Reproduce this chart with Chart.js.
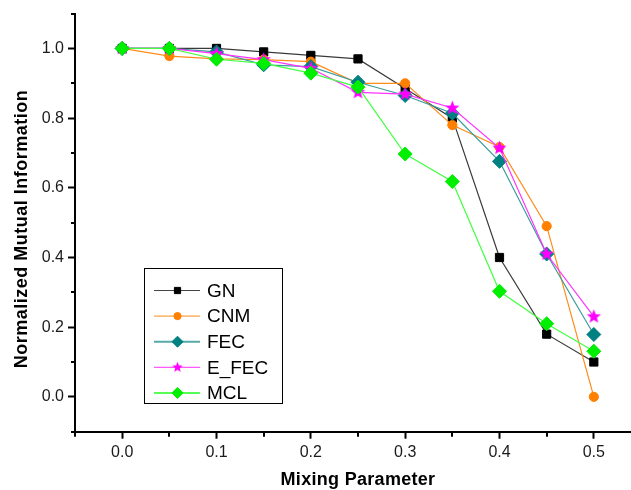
<!DOCTYPE html>
<html>
<head>
<meta charset="utf-8">
<script src="https://cdn.jsdelivr.net/npm/chart.js@4"></script>
<style>
html,body{margin:0;padding:0;background:#fff;overflow:hidden;}
canvas{display:block;}
</style>
</head>
<body>
<canvas id="c" width="649" height="490" style="width:649px;height:490px"></canvas>
<script>
const mixing = [0, 0.05, 0.1, 0.15, 0.2, 0.25, 0.3, 0.35, 0.4, 0.45, 0.5];
const GN    = [1.0, 1.0, 1.0, 0.99, 0.98, 0.97, 0.885, 0.80, 0.40, 0.18, 0.10];
const CNM   = [1.0, 0.978, 0.97, 0.968, 0.962, 0.90, 0.90, 0.78, 0.717, 0.49, 0.0];
const FEC   = [1.0, 1.0, 0.99, 0.953, 0.948, 0.903, 0.865, 0.814, 0.676, 0.41, 0.179];
const E_FEC = [1.0, 1.0, 0.985, 0.968, 0.943, 0.874, 0.869, 0.829, 0.714, 0.41, 0.23];
const MCL   = [1.0, 1.0, 0.969, 0.957, 0.929, 0.889, 0.697, 0.618, 0.303, 0.21, 0.131];
const seriesNames = ['GN', 'CNM', 'FEC', 'E_FEC', 'MCL'];
const xTitle = 'Mixing Parameter';
const yTitle = 'Normalized Mutual Information';

const FONT = 'Arial, "Liberation Sans", sans-serif';

function starImage(outer, inner, color) {
  const s = Math.ceil(outer * 2 + 2);
  const c = document.createElement('canvas');
  c.width = s; c.height = s;
  const g = c.getContext('2d');
  g.fillStyle = color;
  g.beginPath();
  for (let i = 0; i < 10; i++) {
    const r = i % 2 === 0 ? outer : inner;
    const a = -Math.PI / 2 + i * Math.PI / 5;
    const px = s / 2 + r * Math.cos(a), py = s / 2 + r * Math.sin(a);
    if (i === 0) g.moveTo(px, py); else g.lineTo(px, py);
  }
  g.closePath();
  g.fill();
  return c;
}
const starBig = starImage(7.5, 3.2, '#ff00ff');
const starSmall = starImage(5.5, 2.4, '#ff00ff');

function pts(arr) { return arr.map((v, i) => ({x: mixing[i], y: v})); }

const datasets = [
  {label: seriesNames[0], data: pts(GN), borderColor: '#3a3a3a', backgroundColor: '#000', pointBorderColor: '#000',
   pointStyle: 'rect', pointRadius: 5.8, legendRadius: 4.4, legendLine: '#444', legendLW: 1, order: 4},
  {label: seriesNames[1], data: pts(CNM), borderColor: '#ff8c1a', backgroundColor: '#ff8000', pointBorderColor: '#ff8000',
   pointStyle: 'circle', pointRadius: 4.6, legendRadius: 3.6, legendLine: '#ff8c1a', legendLW: 1, order: 3},
  {label: seriesNames[2], data: pts(FEC), borderColor: '#3a9c9c', backgroundColor: '#008080', pointBorderColor: '#008080',
   pointStyle: 'rectRot', pointRadius: 7, legendRadius: 5.5, legendLine: '#55aaaa', legendLW: 2, order: 2},
  {label: seriesNames[3], data: pts(E_FEC), borderColor: '#ff33ff', backgroundColor: '#ff00ff', pointBorderColor: '#ff00ff',
   pointStyle: starBig, legendStyle: starSmall, pointRadius: 7, legendRadius: 5, legendLine: '#ff33ff', legendLW: 1, order: 1},
  {label: seriesNames[4], data: pts(MCL), borderColor: '#44ff44', backgroundColor: '#00ee00', pointBorderColor: '#00ee00',
   pointStyle: 'rectRot', pointRadius: 7, legendRadius: 5.5, legendLine: '#55ff55', legendLW: 2, order: 0}
];
datasets.forEach(d => { d.borderWidth = 1.2; d.tension = 0; d.pointBorderWidth = 1; d.pointHoverRadius = d.pointRadius; d.fill = false; });

const isMajorX = v => Math.round(v * 20) % 2 === 0;
const isMajorY = v => Math.round(v * 10) % 2 === 0;

const decor = {
  id: 'decor',
  afterDraw(chart) {
    const ctx = chart.ctx, xs = chart.scales.x, ys = chart.scales.y, ca = chart.chartArea;
    ctx.save();
    ctx.strokeStyle = '#000';
    ctx.lineWidth = 2;
    xs.ticks.forEach(t => {
      if (!isMajorX(t.value)) {
        const px = Math.round(xs.getPixelForValue(t.value));
        ctx.beginPath(); ctx.moveTo(px, ca.bottom); ctx.lineTo(px, ca.bottom + 5); ctx.stroke();
      }
    });
    ys.ticks.forEach(t => {
      if (!isMajorY(t.value)) {
        const py = Math.round(ys.getPixelForValue(t.value));
        ctx.beginPath(); ctx.moveTo(ca.left, py); ctx.lineTo(ca.left - 4, py); ctx.stroke();
      }
    });
    ctx.fillStyle = '#000';
    ctx.textAlign = 'center';
    ctx.textBaseline = 'alphabetic';
    ctx.font = 'bold 18px ' + FONT;
    ctx.letterSpacing = '0.3px';
    ctx.fillText(xTitle, 358, 485);
    ctx.save();
    ctx.translate(27, 229);
    ctx.rotate(-Math.PI / 2);
    ctx.letterSpacing = '0.5px';
    ctx.fillText(yTitle, 0, 0);
    ctx.restore();
    ctx.letterSpacing = '0px';
    const bx = 144.5, by = 268.5, bw = 138, bh = 135;
    ctx.fillStyle = '#fff';
    ctx.fillRect(bx, by, bw, bh);
    ctx.lineWidth = 1;
    ctx.strokeStyle = '#000';
    ctx.strokeRect(bx, by, bw, bh);
    ctx.font = '19px ' + FONT;
    ctx.textAlign = 'left';
    ctx.textBaseline = 'middle';
    chart.data.datasets.forEach((d, i) => {
      const cy = 290.5 + i * 25.6;
      ctx.strokeStyle = d.legendLine;
      ctx.lineWidth = d.legendLW;
      ctx.beginPath(); ctx.moveTo(154, cy); ctx.lineTo(200, cy); ctx.stroke();
      ctx.fillStyle = d.backgroundColor;
      ctx.strokeStyle = d.pointBorderColor;
      ctx.lineWidth = 1;
      Chart.helpers.drawPoint(ctx, {pointStyle: d.legendStyle || d.pointStyle, radius: d.legendRadius, borderWidth: 1, rotation: 0}, 177.5, cy);
      ctx.fillStyle = '#000';
      ctx.fillText(d.label, 207, cy + 1);
    });
    ctx.restore();
  }
};

new Chart(document.getElementById('c'), {
  type: 'line',
  data: {datasets},
  plugins: [decor],
  options: {
    responsive: false,
    animation: false,
    events: [],
    layout: {padding: {top: 12, right: 0, left: 0, bottom: 0}},
    plugins: {legend: {display: false}, tooltip: {enabled: false}},
    scales: {
      x: {
        type: 'linear', min: -0.05, max: 0.55,
        afterFit(s) { s.height = 58.3; },
        border: {display: true, color: '#000', width: 2},
        grid: {display: true, drawOnChartArea: false, drawTicks: true, tickLength: 7, tickWidth: 2,
               tickColor: c => (c.tick && isMajorX(c.tick.value)) ? '#000' : 'rgba(0,0,0,0)'},
        ticks: {stepSize: 0.05, autoSkip: false, maxRotation: 0, padding: 4, color: '#1a1a1a',
                font: {family: FONT, size: 16},
                callback: v => isMajorX(v) ? (Math.round(v * 10) / 10).toFixed(1) : ''}
      },
      y: {
        type: 'linear', min: -0.1, max: 1.1,
        afterFit(s) { s.width = 75; },
        border: {display: true, color: '#000', width: 2},
        grid: {display: true, drawOnChartArea: false, drawTicks: true, tickLength: 7, tickWidth: 2,
               tickColor: c => (c.tick && isMajorY(c.tick.value)) ? '#000' : 'rgba(0,0,0,0)'},
        ticks: {stepSize: 0.1, autoSkip: false, padding: 4, color: '#1a1a1a',
                font: {family: FONT, size: 16},
                callback: v => isMajorY(v) ? (Math.round(v * 10) / 10).toFixed(1) : ''}
      }
    }
  }
});
</script>
</body>
</html>
